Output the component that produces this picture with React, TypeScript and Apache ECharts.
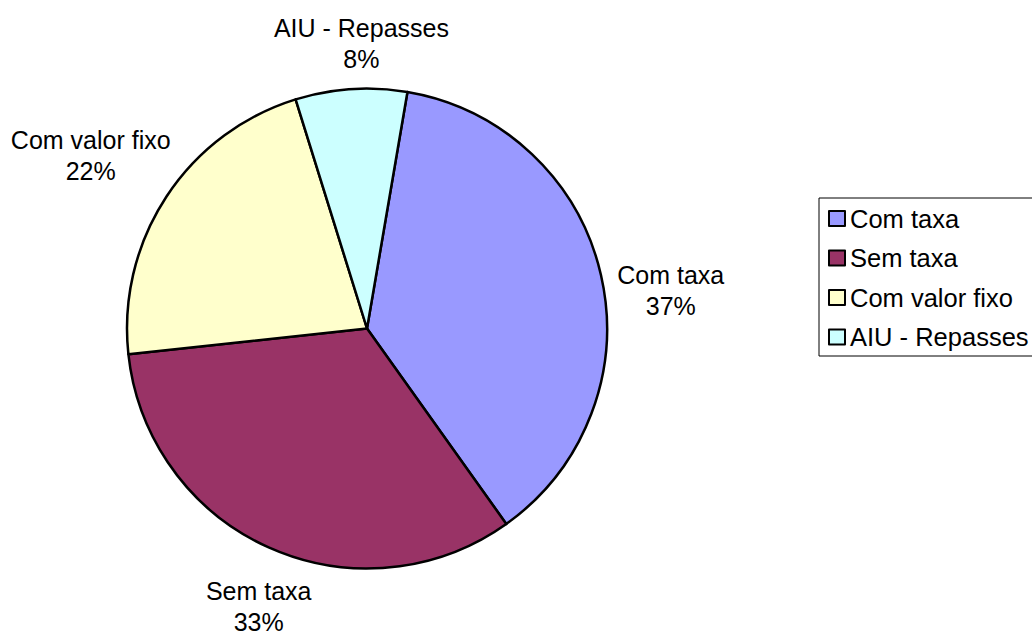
import React, { useEffect, useRef } from 'react';
import * as echarts from 'echarts';

const categories: string[] = ['Com taxa', 'Sem taxa', 'Com valor fixo', 'AIU - Repasses'];
const shares: number[] = [37.45, 33.15, 21.9, 7.5];
const sliceColors: string[] = ['#9999FF', '#993366', '#FFFFCC', '#CCFFFF'];
// small per-label adjustments (px) applied after the angle-based placement
const labelNudge: [number, number][] = [[5, 25], [17, 19], [2, -17], [17, -2]];

const FONT = "Arial, 'Liberation Sans', sans-serif";
const CX = 367;
const CY = 328.5;
const R = 240;
const START = 80.3;
const GAP = 13;

export default function App() {
  const ref = useRef<HTMLDivElement>(null);
  useEffect(() => {
    if (!ref.current) return;
    const chart = echarts.init(ref.current, null, { renderer: 'svg' });
    const total = shares.reduce((a, b) => a + b, 0);
    const mids: number[] = [];
    let acc = 0;
    shares.forEach((v) => {
      mids.push(acc + v / 2);
      acc += v;
    });
    chart.setOption({
      animation: false,
      backgroundColor: '#ffffff',
      legend: {
        orient: 'vertical',
        left: 819,
        top: 198,
        data: categories,
        icon: 'rect',
        itemWidth: 16,
        itemHeight: 15,
        itemGap: 13.5,
        padding: [7.5, 8, 6, 9],
        borderColor: '#000',
        borderWidth: 1,
        selectedMode: false,
        itemStyle: { borderColor: '#000', borderWidth: 2 },
        textStyle: { fontSize: 25.5, lineHeight: 26, color: '#000', fontFamily: FONT },
      },
      series: [
        {
          type: 'pie',
          center: [CX, CY],
          radius: R,
          startAngle: START,
          clockwise: true,
          avoidLabelOverlap: false,
          silent: true,
          data: categories.map((name, i) => ({
            name,
            value: shares[i],
            itemStyle: { color: sliceColors[i] },
          })),
          itemStyle: { borderColor: '#000', borderWidth: 2.5 },
          label: {
            show: true,
            position: 'outside',
            formatter: (p: any) => `${p.name}\n${Math.round(p.percent)}%`,
            fontSize: 25,
            lineHeight: 31,
            color: '#000',
            fontFamily: FONT,
          },
          labelLine: { show: false },
          labelLayout: (params: any) => {
            const i = params.dataIndex;
            const theta = (-START * Math.PI) / 180 + (mids[i] / total) * 2 * Math.PI;
            const ux = Math.cos(theta);
            const uy = Math.sin(theta);
            const hw = params.labelRect.width / 2;
            const hh = params.labelRect.height / 2;
            return {
              x: CX + (R + GAP) * ux + hw * ux + labelNudge[i][0],
              y: CY + (R + GAP) * uy + hh * uy + labelNudge[i][1],
              align: 'center',
              verticalAlign: 'middle',
            };
          },
          emphasis: { disabled: true },
        },
      ],
    });
    return () => chart.dispose();
  }, []);
  return (
    <div
      ref={ref}
      style={{ position: 'absolute', left: 0, top: 0, width: 1032, height: 637 }}
    />
  );
}
